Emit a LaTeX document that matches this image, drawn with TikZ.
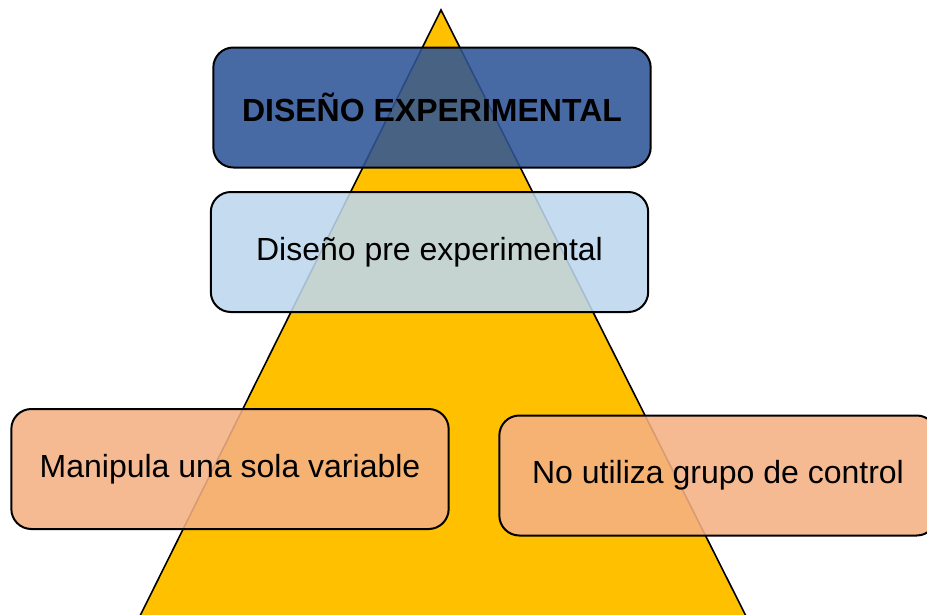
\documentclass[tikz,border=0pt]{standalone}
\usepackage{fontspec}
\setmainfont{Liberation Sans}
\definecolor{piramide}{HTML}{FFC000}
\definecolor{azuloscuro}{HTML}{2F5597}
\definecolor{azulclaro}{HTML}{BDD7EE}
\definecolor{salmon}{HTML}{F4B183}

\begin{document}
\begin{tikzpicture}[x=0.75pt,y=-0.75pt,
  caja/.style={draw=black, line width=1.5pt, rounded corners=15pt,
    fill opacity=0.88, text opacity=1, draw opacity=1,
    minimum width=328pt, minimum height=90pt, inner sep=0pt,
    font=\fontsize{24}{28}\selectfont}]
  \clip (0,0) rectangle (927,614);
  % piramide de fondo
  \draw[line width=1.2pt, fill=piramide] (441,10) -- (136,624) -- (750,624) -- cycle;
  % cajas
  \node[caja, fill=azuloscuro, font=\fontsize{24}{28}\selectfont\bfseries] (disexp) at (432,107.5) {DISEÑO EXPERIMENTAL};
  \node[caja, fill=azulclaro] (preexp) at (429.5,252) {Diseño pre experimental};
  \node[caja, fill=salmon] (manip) at (230,469) {Manipula una sola variable};
  \node[caja, fill=salmon] (noctrl) at (718,475.5) {No utiliza grupo de control};
\end{tikzpicture}
\end{document}
